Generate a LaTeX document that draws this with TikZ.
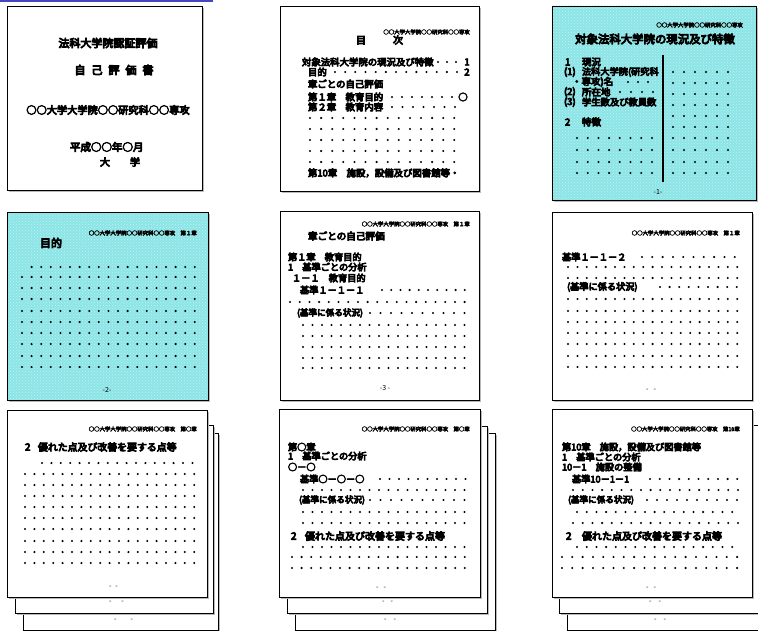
\documentclass[tikz,border=0pt]{standalone}
\usepackage{fontspec}
\newfontfamily\cjk[FakeBold=8]{Noto Sans CJK JP}
\newfontfamily\cjkr{Noto Sans CJK JP}
\usetikzlibrary{patterns}
\definecolor{cyanbg}{RGB}{140,228,230}
\definecolor{cyanlt}{RGB}{190,242,242}
\definecolor{linkblue}{RGB}{70,70,190}
\newcommand\dotrow[4]{\foreach \k in {1,...,#3}{\fill ({#1+(\k-1)*#4},#2) circle[radius=1.15pt];}}
\newcommand\pagebox[4]{%
  \fill[gray!55] ({#1+1.6},{#2+1.6}) rectangle ({#3+1.6},{#4+1.6});
  \filldraw[line width=0.9pt, fill=white] (#1,#2) rectangle (#3,#4);}
\newcommand\cpagebox[4]{%
  \fill[gray!55] ({#1+1.6},{#2+1.6}) rectangle ({#3+1.6},{#4+1.6});
  \fill[cyanbg] (#1,#2) rectangle (#3,#4);
  \fill[pattern=crosshatch dots, pattern color=cyanlt] (#1,#2) rectangle (#3,#4);
  \draw[line width=0.9pt] (#1,#2) rectangle (#3,#4);}
\tikzset{
  tx/.style={inner sep=0pt, outer sep=0pt, anchor=west, font=\cjk\fontsize{#1}{#1}\selectfont},
  tx/.default=9.2,
  tc/.style={tx=#1, anchor=center},
  tc/.default=9.2,
  hd/.style={inner sep=0pt, anchor=east, font=\cjk\fontsize{5.4}{5.4}\selectfont},
  pn/.style={inner sep=0pt, font=\cjkr\fontsize{7}{7}\selectfont},
}
\begin{document}
\begin{tikzpicture}[x=1pt,y=-1pt]
\useasboundingbox (0,0) rectangle (758,631);
\clip (0,0) rectangle (758,631);
\fill[white] (0,0) rectangle (758,631);
\draw[linkblue, line width=1.6pt] (0,1) -- (213,1);

% ---------- Page 1 : cover
\pagebox{7}{6}{202}{190}
\node[tc=11] (p1a) at (108,43) {法科大学院認証評価};
\node[tc=11] (p1b) at (114,70) {自\hspace{6pt}己\hspace{6pt}評\hspace{6pt}価\hspace{6pt}書};
\node[tc=10.2] (p1c) at (108,110) {○○大学大学院○○研究科○○専攻};
\node[tx=10.5] (p1d) at (70,147) {平成○○年○月};
\node[tx=10] (p1e) at (100,162) {大　　学};

% ---------- Page 2 : contents
\pagebox{280}{6}{479}{191}
\node[hd] (p2h) at (470,32) {○○大学大学院○○研究科○○専攻};
\node[tc=10] (p2t) at (379.5,40) {目\hspace{27pt}次};
\node[tx=9.4] (p2a) at (302,62) {対象法科大学院の現況及び特徴};
\dotrow{438}{62}{3}{9}
\node[tc=9.4] (p2a1) at (467,62) {1};
\node[tx=9.4] (p2b) at (308,72) {目的};
\dotrow{335}{72}{13}{10.17}
\node[tc=9.4] (p2b1) at (467,72) {2};
\node[tx=9.4] (p2c) at (308,84) {章ごとの自己評価};
\node[tx=9.4] (p2d) at (308,97) {第１章　教育目的};
\dotrow{392}{97}{7}{10}
\node[tc=9.4] (p2d1) at (463,97) {○};
\node[tx=9.4] (p2e) at (308,107) {第２章　教育内容};
\dotrow{392}{107}{7}{10.5}
\foreach \y in {118,129,140,151,162} {\dotrow{310}{\y}{14}{11.1}}
\node[tx=9.4] (p2f) at (308,173) {第10章　施設，設備及び図書館等・};

% ---------- Page 3 : cyan, status
\cpagebox{552}{6}{756}{200}
\node[hd] (p3h) at (743,25) {○○大学大学院○○研究科○○専攻};
\node[tc=11.4] (p3t) at (655,39) {対象法科大学院の現況及び特徴};
\node[tx=9.5] (p3a) at (565,62) {1};
\node[tx=9.5] (p3a2) at (582,62) {現況};
\node[tx=9.5] (p3b) at (564,72) {(1)};
\node[tx=9.2] (p3b2) at (582,72) {法科大学院(研究科};
\node[tx=9.5] (p3c) at (572,82) {・専攻)名};
\dotrow{628}{82}{3}{10}
\node[tx=9.5] (p3d) at (564,92) {(2)};
\node[tx=9.5] (p3d2) at (582,92) {所在地};
\dotrow{620}{92}{4}{11}
\node[tx=9.5] (p3e) at (564,102) {(3)};
\node[tx=9.3] (p3e2) at (582,102) {学生数及び教員数};
\node[tx=9.5] (p3f) at (565,122) {2};
\node[tx=9.5] (p3f2) at (582,122) {特徴};
\foreach \y in {138,150,162,173} {\dotrow{577}{\y}{8}{10.7}}
\draw[line width=1.2pt] (663,55) -- (663,182);
\foreach \y in {72,83,94,105,116,127,138,150,162,173} {\dotrow{673}{\y}{6}{11}}
\node[pn] (p3n) at (658,192) {-1-};

% ---------- Page 4 : cyan, purpose
\cpagebox{7}{212}{208}{400}
\node[hd] (p4h) at (197,233) {○○大学大学院○○研究科○○専攻　第１章};
\node[tx=11] (p4t) at (40,243) {目的};
\dotrow{31.6}{267}{18}{9.6}
\foreach \y in {277,288,299,311,322,333,344,356,367} {\dotrow{22}{\y}{19}{9.6}}
\node[pn] (p4n) at (107,390) {-2-};

% ---------- Page 5
\pagebox{280}{211}{479}{400}
\node[hd] (p5h) at (470,224) {○○大学大学院○○研究科○○専攻　第１章};
\node[tx=9.6] (p5t) at (308,236) {章ごとの自己評価};
\node[tx] (p5a) at (288,257) {第１章　教育目的};
\node[tx] (p5b) at (288,267) {1　基準ごとの分析};
\node[tx] (p5c) at (292,278) {１－１　教育目的};
\node[tx] (p5d) at (300,290) {基準１－１－１};
\dotrow{382}{290}{10}{9.2}
\dotrow{290}{302}{19}{9.7}
\node[tx=8.6] (p5e) at (297,313) {(基準に係る状況)};
\dotrow{370}{313}{10}{10.5}
\foreach \y in {325,336,347,358,368} {\dotrow{303}{\y}{18}{9.5}}
\node[pn] (p5n) at (385,388) {-3 -};

% ---------- Page 6
\pagebox{552}{212}{752}{400}
\node[hd] (p6h) at (740,233) {○○大学大学院○○研究科○○専攻　第１章};
\node[tx] (p6a) at (562,257) {基準１－１－２};
\dotrow{642}{257}{10}{10.3}
\dotrow{568}{267}{19}{9.4}
\dotrow{568}{278}{19}{9.4}
\node[tx] (p6b) at (567,287) {(基準に係る状況)};
\dotrow{660}{287}{9}{9.6}
\foreach \y in {299,311,322,333,344,356,367} {\dotrow{568}{\y}{19}{9.4}}
\node[pn] (p6n) at (651,390) {-\hspace{5pt}-};

% ---------- Row 3 left : stack
\pagebox{23}{433}{218}{630}
\node[pn] (q1n3) at (123.5,620) {-\hspace{14pt}-};
\pagebox{15}{425}{213}{613}
\node[pn] (q1n2) at (116.5,602) {-\hspace{10pt}-};
\pagebox{7}{410}{207}{597}
\node[hd] (q1h) at (197,429) {○○大学大学院○○研究科○○専攻　第○章};
\node[tx=9.9] (q1a) at (25,447) {2};
\node[tx=9.9] (q1b) at (38,447) {優れた点及び改善を要する点等};
\dotrow{42}{463}{17}{9.4}
\foreach \y in {474,485,496,507,518,529,541,552,563} {\dotrow{25}{\y}{19}{9.4}}
\node[pn] (q1n) at (113.5,587) {-\hspace{4pt}-};

% ---------- Row 3 middle : stack
\pagebox{295}{433}{495}{630}
\node[pn] (q2n3) at (390,620) {-\hspace{7pt}-};
\pagebox{287}{426}{487}{613}
\node[pn] (q2n2) at (387.5,602) {-\hspace{6pt}-};
\pagebox{279}{409}{480}{597}
\node[hd] (q2h) at (470,429) {○○大学大学院○○研究科○○専攻　第○章};
\node[tx] (q2a) at (288,447) {第○章};
\node[tx] (q2b) at (288,456) {1　基準ごとの分析};
\node[tx] (q2c) at (288,467) {○－○};
\node[tx] (q2d) at (300,479) {基準○－○－○};
\dotrow{380}{479}{10}{9.5}
\dotrow{303}{490}{18}{9.5}
\node[tx=8.6] (q2e) at (299,500) {(基準に係る状況)};
\dotrow{370}{500}{10}{10.5}
\dotrow{303}{512}{18}{9.5}
\dotrow{303}{523}{18}{9.5}
\node[tx=10] (q2f) at (291,536) {2};
\node[tx=10] (q2g) at (305,536) {優れた点及び改善を要する点等};
\dotrow{303}{547}{18}{9.5}
\dotrow{292}{557}{19}{9.6}
\dotrow{292}{568}{19}{9.6}
\node[pn] (q2n) at (381,588) {-\hspace{5pt}-};

% ---------- Row 3 right : stack
\pagebox{567}{433}{775}{630}
\node[pn] (q3n3) at (660,620) {-\hspace{7pt}-};
\pagebox{559}{425}{768}{613}
\node[pn] (q3n2) at (655,602) {-\hspace{7pt}-};
\pagebox{552}{409}{752}{597}
\node[hd] (q3h) at (740,429) {○○大学大学院○○研究科○○専攻　第10章};
\node[tx] (q3a) at (562,447) {第10章　施設，設備及び図書館等};
\node[tx] (q3b) at (562,457) {1　基準ごとの分析};
\node[tx] (q3c) at (562,467) {10－1　施設の整備};
\node[tx] (q3d) at (572,479) {基準10－1－1};
\dotrow{650}{479}{10}{9.7}
\dotrow{573}{490}{18}{9.7}
\node[tx=8.6] (q3e) at (568,500) {(基準に係る状況)};
\dotrow{647}{500}{10}{10}
\dotrow{577}{512}{17}{9.7}
\dotrow{573}{523}{18}{9.7}
\node[tx=10] (q3f) at (566,536) {2};
\node[tx=10] (q3g) at (582,536) {優れた点及び改善を要する点等};
\dotrow{577}{547}{17}{9.7}
\dotrow{562}{557}{18}{10.3}
\dotrow{562}{568}{18}{10.3}
\node[pn] (q3n) at (651,588) {-\hspace{5pt}-};
\end{tikzpicture}
\end{document}
